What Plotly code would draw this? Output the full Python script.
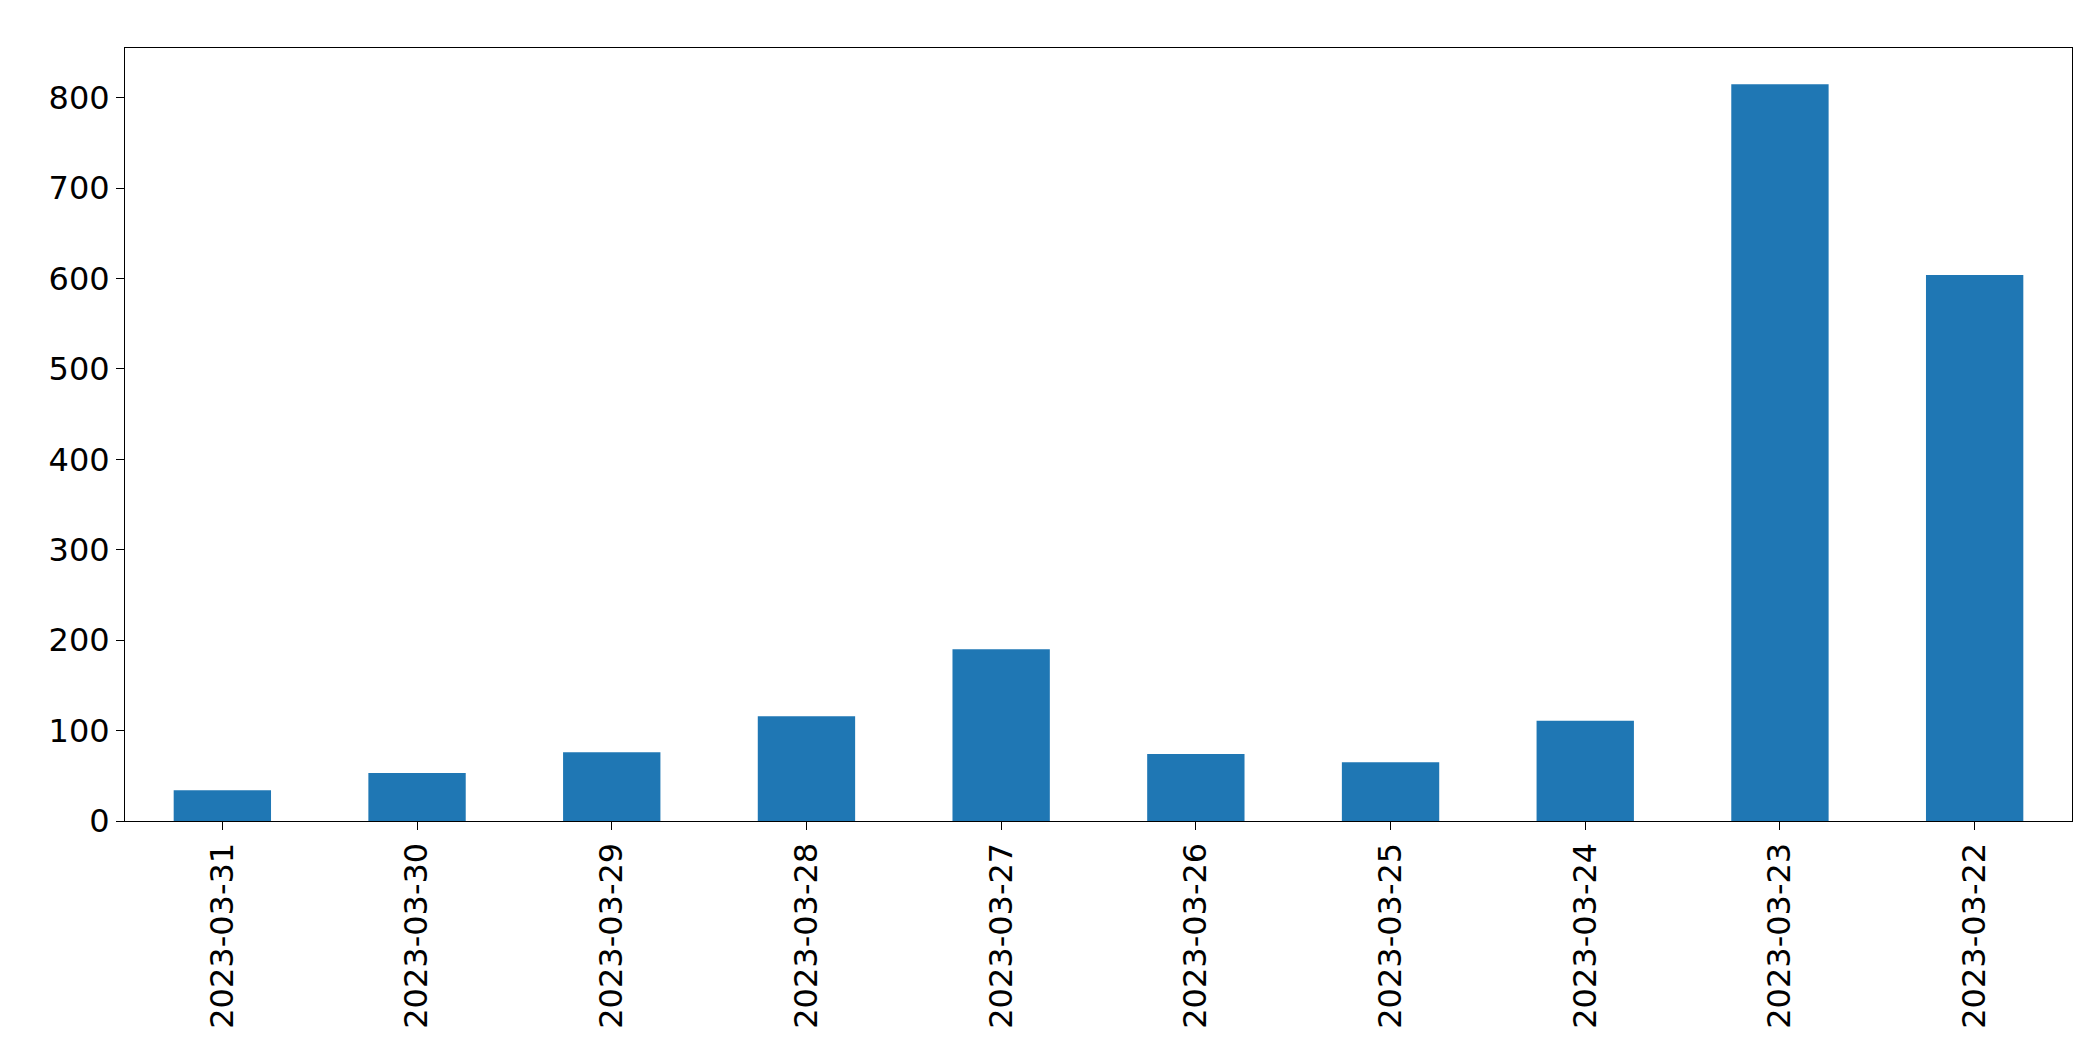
import plotly.graph_objects as go

dates = ["2023-03-31","2023-03-30","2023-03-29","2023-03-28","2023-03-27",
         "2023-03-26","2023-03-25","2023-03-24","2023-03-23","2023-03-22"]
counts = [34, 53, 76, 116, 190, 74, 65, 111, 815, 604]
yticks = [0, 100, 200, 300, 400, 500, 600, 700, 800]

fig = go.Figure(go.Bar(x=dates, y=counts, width=0.5, marker_color="#1f77b4", marker_line_width=0))
fig.update_layout(
    width=2093, height=1061, paper_bgcolor="white", plot_bgcolor="white",
    margin=dict(l=117, r=29, t=40, b=248), showlegend=False,
    font=dict(family="DejaVu Sans", size=32, color="black"),
)
fig.update_xaxes(type="category", range=[-0.5, 9.5], tickangle=-90, ticks="outside",
                 ticklen=8, tickcolor="black", showline=True, linecolor="black", mirror=True,
                 showgrid=False, tickfont=dict(size=32))
fig.update_yaxes(range=[0, 855], tickvals=yticks, ticks="outside", ticklen=8, tickcolor="black",
                 showline=True, linecolor="black", mirror=True, showgrid=False, zeroline=False,
                 tickfont=dict(size=32))
fig.write_html("out.html")
